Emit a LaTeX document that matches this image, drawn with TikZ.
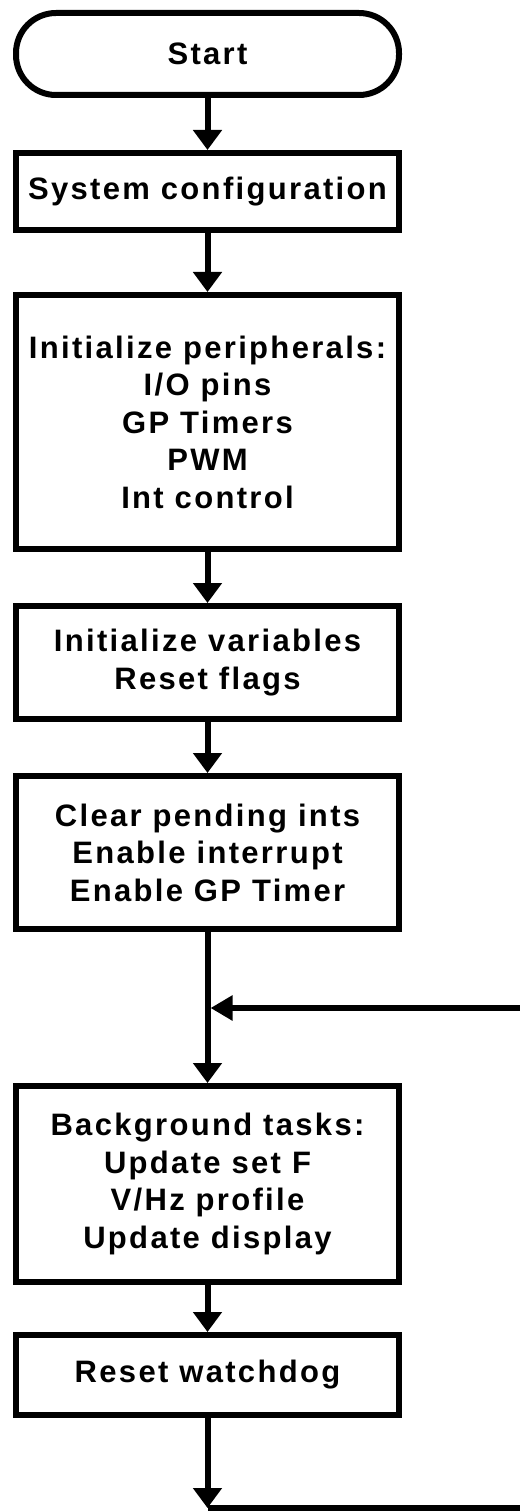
\documentclass[tikz,border=0pt]{standalone}
\usepackage{fontspec}
\newfontfamily\flowfont{Liberation Sans}[LetterSpace=7.5]
\usetikzlibrary{arrows.meta}

\begin{document}
\begin{tikzpicture}[x=1pt,y=-1pt,
  every node/.style={font=\flowfont\bfseries\fontsize{31}{37.5}\selectfont},
  stepbox/.style={shape=rectangle,draw=black,line width=6pt,minimum width=383pt,inner sep=0pt,align=center},
  termbox/.style={stepbox,rounded corners=40pt},
  flow/.style={line width=6pt,-{Triangle[width=28pt,length=20pt]}},
  back/.style={line width=6pt,-{Triangle[width=24pt,length=22pt]}}]
\useasboundingbox (0,0) rectangle (519,1511);
\node[termbox,minimum height=82pt] (Start) at (207.5,54) {Start};
\node[stepbox,minimum height=77pt] (Config) at (207.5,191.5) {System configuration};
\node[stepbox,minimum height=254pt] (Periph) at (207.5,422) {Initialize peripherals:\\I/O pins\\GP Timers\\PWM\\Int control};
\node[stepbox,minimum height=113pt] (Vars) at (207.5,662.5) {Initialize variables\\Reset flags};
\node[stepbox,minimum height=153pt] (Ints) at (207.5,852.5) {Clear pending ints\\Enable interrupt\\Enable GP Timer};
\node[stepbox,minimum height=196pt] (Tasks) at (207.5,1184) {Background tasks:\\Update set F\\V/Hz profile\\Update display};
\node[stepbox,minimum height=80pt] (Dog) at (207.5,1375) {Reset watchdog};
\coordinate (Join) at (210.5,1008);
\coordinate (Bot) at (207.5,1508);
\path [flow] (Start) edge (Config);
\path [flow] (Config) edge (Periph);
\path [flow] (Periph) edge (Vars);
\path [flow] (Vars) edge (Ints);
\path [flow] (Ints) edge (Tasks);
\path [flow] (Tasks) edge (Dog);
\path [flow] (Dog) edge (Bot);
\draw [back] (Bot) -- (526,1508) -- (526,1008) -- (Join);
\end{tikzpicture}
\end{document}
